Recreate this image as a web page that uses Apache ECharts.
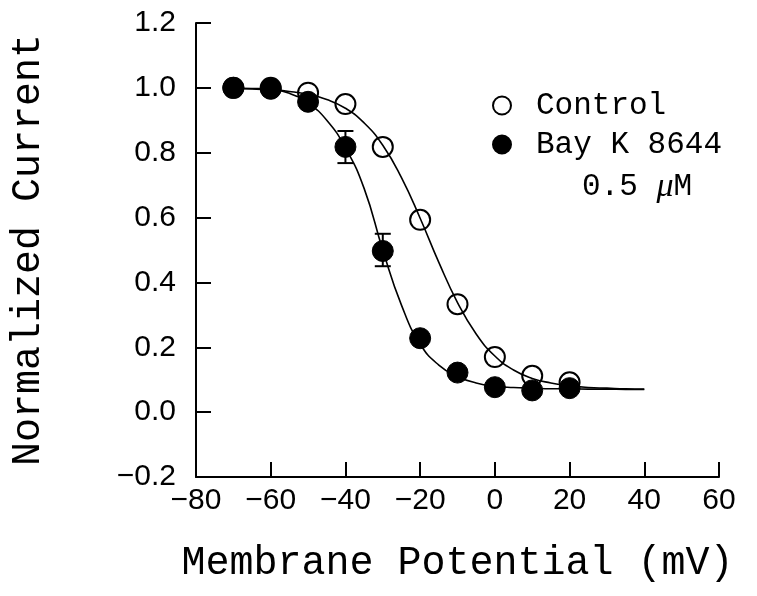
<!DOCTYPE html>
<html>
<head>
<meta charset="utf-8">
<script src="https://cdn.jsdelivr.net/npm/echarts@6/dist/echarts.min.js"></script>
<style>html,body{margin:0;padding:0;background:#fff;}#c{width:757px;height:596px;}</style>
</head>
<body>
<div id="c"></div>
<script>
// Measured points (membrane potential, mV)
const potentials = [-70, -60, -50, -40, -30, -20, -10, 0, 10, 20];
const controlValues = [1.0, 1.0, 0.985, 0.95, 0.818, 0.593, 0.333, 0.17, 0.112, 0.092];
const bayKValues = [1.0, 0.997, 0.957, 0.818, 0.497, 0.228, 0.122, 0.077, 0.067, 0.074];

// Error bars (Bay K 8644)
const errX = [-40, -30];
const errLow = [0.768, 0.45];
const errHigh = [0.867, 0.55];

// Fitted curves
const fitX = [-70, -65, -60, -55, -50, -45, -40, -35, -30, -25, -20, -15, -10, -5, 0, 5, 10, 15, 20, 25, 30, 35, 40];
const controlFit = [0.998, 0.997, 0.994, 0.989, 0.980, 0.964, 0.937, 0.892, 0.823, 0.723, 0.598, 0.462, 0.338, 0.241, 0.173, 0.130, 0.104, 0.090, 0.081, 0.076, 0.074, 0.072, 0.071];
const bayKFit = [0.999, 0.998, 0.995, 0.983, 0.953, 0.900, 0.815, 0.690, 0.500, 0.330, 0.210, 0.145, 0.110, 0.090, 0.080, 0.076, 0.074, 0.072, 0.072, 0.071, 0.071, 0.070, 0.070];

const xTickMin = -80, xTickMax = 60, xStep = 20;
const yTickMin = -0.2, yTickMax = 1.2, yStep = 0.2;

const minus = s => String(s).replace('-', '\u2212');

const chart = echarts.init(document.getElementById('c'), null, {renderer: 'canvas'});
const black = '#000';
const tickFont = 'Liberation Sans';
const titleFont = 'Liberation Mono';

chart.setOption({
  animation: false,
  backgroundColor: '#fff',
  grid: {left: 196, right: 38, top: 23, bottom: 119, outerBoundsMode: 'none'},
  xAxis: {
    type: 'value', min: xTickMin, max: xTickMax, interval: xStep,
    name: 'Membrane Potential (mV)', nameLocation: 'middle', nameGap: 66,
    nameTextStyle: {fontFamily: titleFont, fontSize: 40, color: black},
    axisLine: {show: true, onZero: false, lineStyle: {color: black, width: 2}},
    axisTick: {show: true, inside: true, length: 15, lineStyle: {color: black, width: 2}},
    axisLabel: {color: black, fontFamily: tickFont, fontSize: 30, margin: 9, formatter: v => minus(v)},
    splitLine: {show: false}
  },
  yAxis: {
    type: 'value', min: yTickMin, max: yTickMax, interval: yStep,
    name: 'Normalized Current', nameLocation: 'middle', nameGap: 148,
    nameTextStyle: {fontFamily: titleFont, fontSize: 40, color: black},
    axisLine: {show: true, onZero: false, lineStyle: {color: black, width: 2}},
    axisTick: {show: true, inside: true, length: 15, lineStyle: {color: black, width: 2}},
    axisLabel: {color: black, fontFamily: tickFont, fontSize: 30, margin: 20, formatter: v => minus(v.toFixed(1))},
    splitLine: {show: false}
  },
  legend: {
    orient: 'vertical', left: 487, top: 85, itemWidth: 18, itemHeight: 18, itemGap: 8,
    icon: 'circle',
    textStyle: {fontFamily: titleFont, fontSize: 31, color: black, padding: [0, 0, 0, 20]},
    data: ['Control', 'Bay K 8644']
  },
  graphic: [{
    type: 'text', left: 582, top: 170, silent: true,
    style: {
      text: '0.5 {mu|\u03bc}M', fontFamily: titleFont, fontSize: 31, fill: black,
      rich: {mu: {fontFamily: 'Liberation Serif', fontStyle: 'italic', fontSize: 34, fill: black}}
    }
  }],
  series: [
    {name: 'Control fit', type: 'line', data: fitX.map((x, i) => [x, controlFit[i]]), smooth: true, showSymbol: false, symbol: 'none', lineStyle: {color: black, width: 1.6}, z: 2, silent: true},
    {name: 'Bay K fit', type: 'line', data: fitX.map((x, i) => [x, bayKFit[i]]), smooth: true, showSymbol: false, symbol: 'none', lineStyle: {color: black, width: 1.6}, z: 2, silent: true},
    {
      name: 'Bay K error', type: 'custom', z: 3, silent: true,
      data: errX.map((x, i) => [x, errLow[i], errHigh[i]]),
      renderItem: (params, api) => {
        const lo = api.coord([api.value(0), api.value(1)]);
        const hi = api.coord([api.value(0), api.value(2)]);
        const w = 8;
        const st = {stroke: black, lineWidth: 2};
        return {type: 'group', children: [
          {type: 'line', shape: {x1: lo[0], y1: lo[1], x2: hi[0], y2: hi[1]}, style: st},
          {type: 'line', shape: {x1: lo[0] - w, y1: lo[1], x2: lo[0] + w, y2: lo[1]}, style: st},
          {type: 'line', shape: {x1: hi[0] - w, y1: hi[1], x2: hi[0] + w, y2: hi[1]}, style: st}
        ]};
      }
    },
    {name: 'Control', type: 'scatter', data: potentials.map((x, i) => [x, controlValues[i]]), symbol: 'circle', symbolSize: 20, itemStyle: {color: 'rgba(255,255,255,0)', borderColor: black, borderWidth: 2, opacity: 1}, z: 4},
    {name: 'Bay K 8644', type: 'scatter', data: potentials.map((x, i) => [x, bayKValues[i]]), symbol: 'circle', symbolSize: 21, itemStyle: {color: black, borderColor: black, borderWidth: 1, opacity: 1}, z: 5}
  ]
});
</script>
</body>
</html>
